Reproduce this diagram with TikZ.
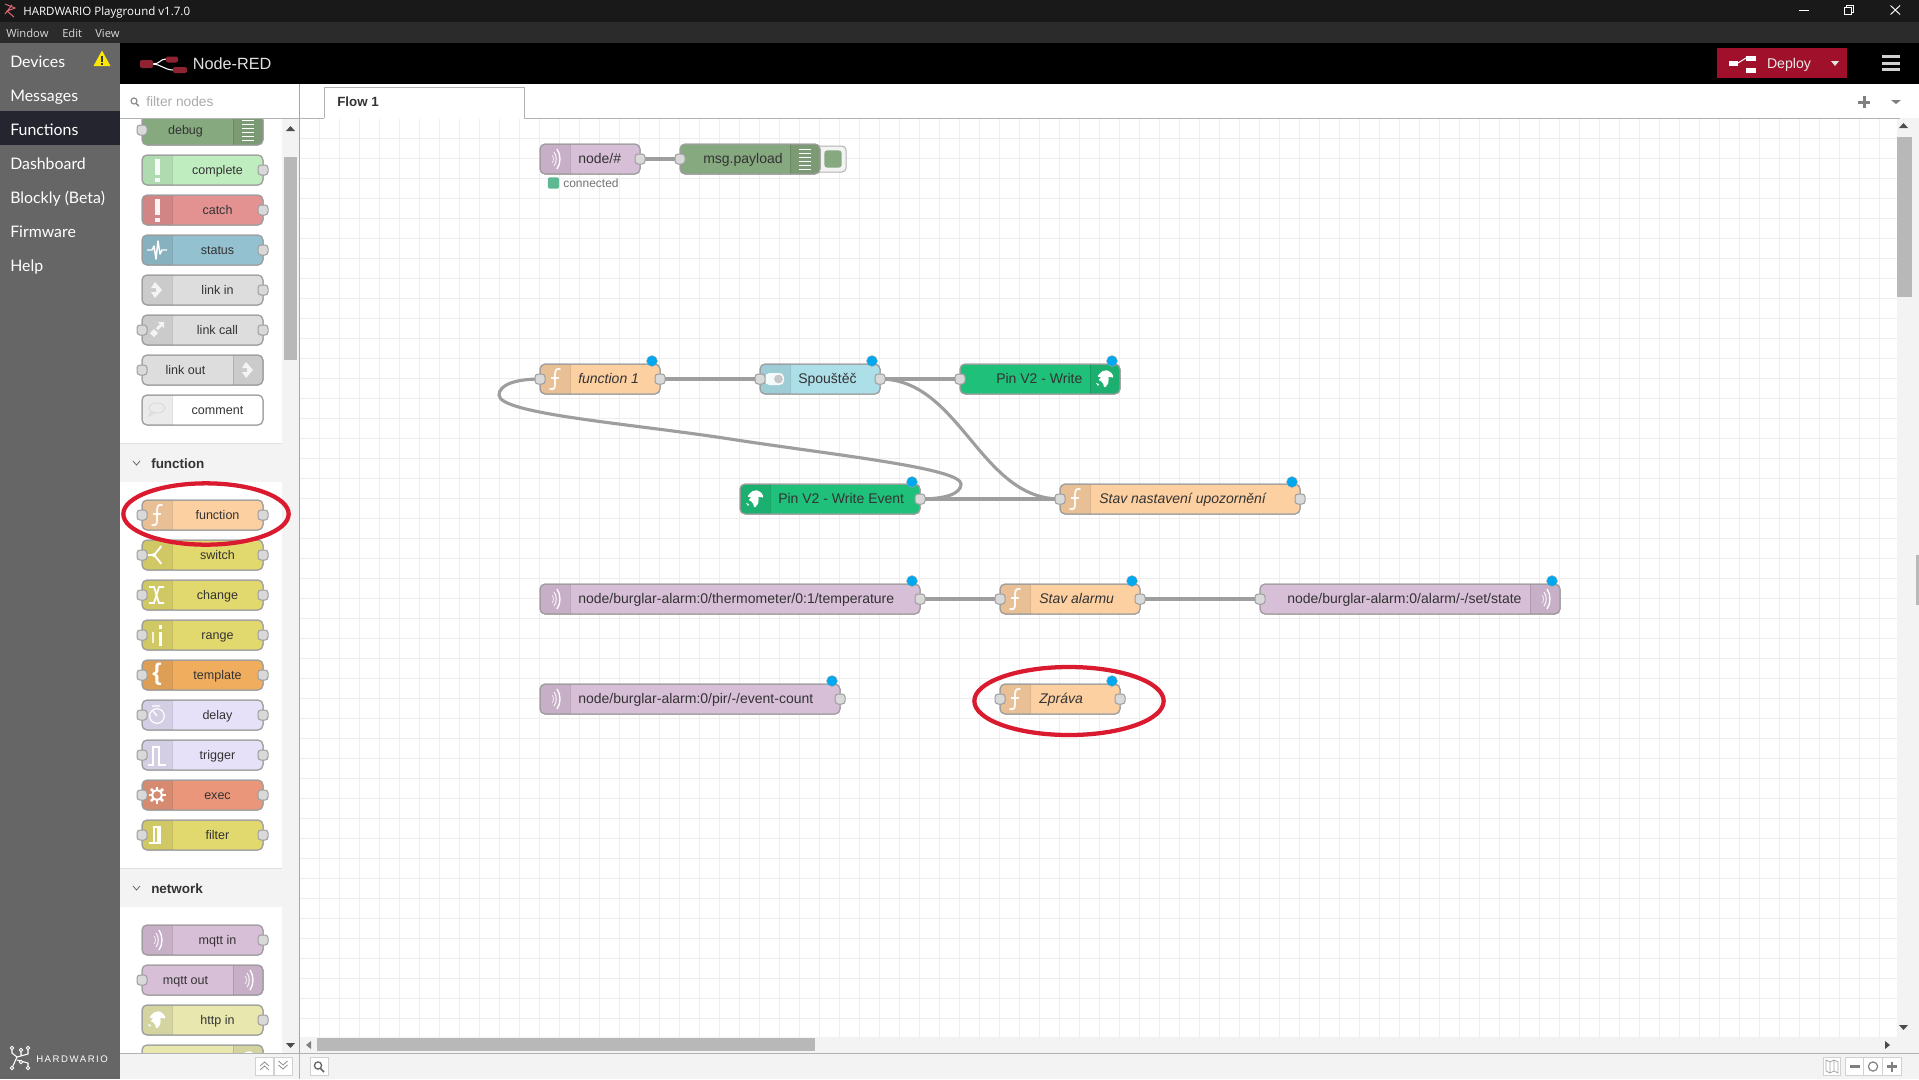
\documentclass[tikz,border=0pt]{standalone}
\usepackage{fontspec}
\usetikzlibrary{shapes.geometric}
\setmainfont{Liberation Sans}
\newfontfamily\uifont{Open Sans}
\newfontfamily\sidefont{Lato}
\newfontfamily\brandfont[LetterSpace=16]{Liberation Sans}
\definecolor{cFunc}{HTML}{FDD0A2}
\definecolor{cMqtt}{HTML}{D8BFD8}
\definecolor{cDebug}{HTML}{87A980}
\definecolor{cComplete}{HTML}{C0EDC0}
\definecolor{cCatch}{HTML}{E49191}
\definecolor{cStatus}{HTML}{94C1D0}
\definecolor{cLink}{HTML}{DDDDDD}
\definecolor{cSwitch}{HTML}{E2D96E}
\definecolor{cTemplate}{HTML}{F0AD5E}
\definecolor{cDelay}{HTML}{E6E0F8}
\definecolor{cExec}{HTML}{E9967A}
\definecolor{cHttp}{HTML}{E7E7AE}
\definecolor{cToggle}{HTML}{ADDFE9}
\definecolor{cPin}{HTML}{1FC07A}
\definecolor{cRed}{HTML}{DA1A2E}
\definecolor{cDeploy}{HTML}{A0102A}
\definecolor{cLogo}{HTML}{8F2332}
\definecolor{cText}{HTML}{333333}
\definecolor{cBar}{HTML}{F3F3F3}
\definecolor{cGrid}{HTML}{EEEEEE}
\definecolor{cBlue}{HTML}{00A8F0}
\definecolor{cSide}{HTML}{666666}
\definecolor{cSideOn}{HTML}{25252F}
\pgfdeclarelayer{gridlayer}
\pgfdeclarelayer{wirelayer}
\pgfsetlayers{gridlayer,wirelayer,main}
\tikzset{
  nodebox/.style={rectangle,rounded corners=3.75pt,draw=black!38,line width=0.75pt,minimum height=22.5pt,inner sep=0pt,outer sep=0pt},
  portbox/.style={rectangle,rounded corners=2.2pt,draw=black!38,fill=black!15,line width=0.75pt,minimum size=7.5pt,inner sep=0pt,outer sep=0pt},
  wire/.style={draw=black!38,line width=2.35pt},
  gridline/.style={draw=cGrid,line width=0.75pt},
  bluedot/.style={circle,fill=cBlue,draw=black!35,line width=0.3pt,minimum size=8.2pt,inner sep=0pt},
  redring/.style={ellipse,draw=cRed,line width=3.2pt,inner sep=0pt},
  flowlab/.style={text=cText,font=\fontsize{10.5}{12}\selectfont,inner sep=0pt,anchor=west,text height=9.4pt,text depth=2pt},
  flowit/.style={text=cText,font=\fontsize{10.5}{12}\selectfont\itshape,inner sep=0pt,anchor=west,text height=9.4pt,text depth=2pt},
  pallab/.style={text=cText,font=\fontsize{9.4}{11}\selectfont,inner sep=0pt,text height=8.8pt,text depth=2pt},
  sidelab/.style={text=white,font=\sidefont\fontsize{11.9}{14}\selectfont,inner sep=0pt,anchor=west,text height=12.2pt,text depth=2.4pt},
  menulab/.style={text=black!15,font=\uifont\fontsize{8.4}{10}\selectfont,inner sep=0pt,anchor=west,text height=8pt,text depth=1.6pt},
  sechead/.style={text=cText,font=\fontsize{10.1}{12}\selectfont\bfseries,inner sep=0pt,anchor=west,text height=9.8pt,text depth=2pt},
  toolbtn/.style={rectangle,draw=black!18,fill=white,line width=0.75pt,minimum height=13.5pt,inner sep=0pt},
  graytri/.style={fill=black!50},
}
\def\sideL{L}
\newcommand{\flowbox}[7]{%
  \pgfmathsetmacro\fnW{(#4-#3)*0.75}%
  \pgfmathsetmacro\fnM{(#3+#4)/2}%
  \node[nodebox,fill=#6,minimum width=\fnW pt] (#2) at (\fnM,#5) {};
  \def\fnS{#1}%
  \begin{scope}
    \clip[rounded corners=3.75pt] (#2.north west) rectangle (#2.south east);
    \ifx\fnS\sideL
      \fill[black,opacity=0.08] (#3,#5-15) rectangle (#3+30,#5+15);
      \draw[black,opacity=0.12,line width=0.75pt] (#3+30,#5-15) -- (#3+30,#5+15);
    \else
      \fill[black,opacity=0.08] (#4-30,#5-15) rectangle (#4,#5+15);
      \draw[black,opacity=0.12,line width=0.75pt] (#4-30,#5-15) -- (#4-30,#5+15);
    \fi
  \end{scope}
  \draw[black!38,line width=0.75pt,rounded corners=3.75pt] (#2.north west) rectangle (#2.south east);
  \ifx\fnS\sideL
    \begin{scope}[shift={(#3+15,#5)}]#7\end{scope}
  \else
    \begin{scope}[shift={(#4-15,#5)}]#7\end{scope}
  \fi
}
\newcommand{\portI}[1]{\node[portbox] (#1-i) at (#1.west) {};}
\newcommand{\portO}[1]{\node[portbox] (#1-o) at (#1.east) {};}
% icons
\newcommand{\icoF}{\draw[white,opacity=.9,line width=1.4pt,line cap=round] (5,-10) .. controls (1,-11) and (0,-8) .. (0,-4) -- (0,5) .. controls (0,9) and (-1,11) .. (-5,10); \draw[white,opacity=.9,line width=1pt] (-4,-1) -- (4,-1);}
\newcommand{\icoBang}{\fill[white,opacity=.9] (-2.5,-11) rectangle (2.5,5); \fill[white,opacity=.9] (-2.5,7.5) rectangle (2.5,11.5);}
\newcommand{\icoWave}{\draw[white,line width=1.1pt,line join=round] (-10,0) -- (-5,0) -- (-3,-4) -- (-1,9) -- (1,-9) -- (3,4) -- (5,0) -- (10,0);}
\newcommand{\icoLinkA}{\fill[white,opacity=.8] (-6,-2) -- (-2,-8) -- (5,0) -- (-2,8) -- (-6,2) -- (-1,2) -- (-1,-2) -- cycle;}
\newcommand{\icoLinkB}{\fill[white,opacity=.8] (1,-8) -- (7,-8) -- (7,-2) -- (5,-4) -- (1,0) -- (-1,-2) -- (3,-6) -- cycle; \fill[white,opacity=.8] (-7,3) -- (-3,-1) -- (1,3) -- (-3,7) -- cycle;}
\newcommand{\icoRadio}{\draw[white,opacity=.75,line width=0.6pt] (-3,-4) .. controls (-1,-2) and (-1,2) .. (-3,4); \draw[white,opacity=.85,line width=0.8pt] (-1,-7) .. controls (2,-3) and (2,3) .. (-1,7); \draw[white,line width=1pt] (2,-10) .. controls (6,-4) and (6,4) .. (2,10);}
\newcommand{\icoGlobe}{\fill[white,rounded corners=1.5pt] (-6,-5) -- (-1,-9) -- (5,-8) -- (9,-2) -- (6,-1) -- (3,-3) -- (4,2) -- (2,7) -- (-1,9) -- (-2,3) -- (-7,1) -- (-3,-2) -- (-8,-2) -- cycle; \fill[white] (-9,4) -- (-6,5) -- (-7,7) -- cycle;}
\newcommand{\icoToggle}{\fill[white,opacity=.9,rounded corners=3.4pt] (-10,-6) rectangle (9,6); \fill[black!22] (3.5,0) circle [radius=4.4];}
\newcommand{\icoList}{\foreach \ly in {-10,-6,-2,2,6,10}{\draw[white,line width=0.75pt] (-6,\ly) -- (6,\ly);}}
\newcommand{\icoSwitch}{\draw[white,line width=1.4pt] (-9,0) -- (-3,0) -- (3,-7) -- (4,-9) (-3,0) -- (3,7) -- (4,9); \fill[white] (-3,0) circle [radius=2];}
\newcommand{\icoChange}{\draw[white,line width=1.3pt] (-8,-8) -- (-3,-8) -- (2,8) -- (7,8) (-8,8) -- (-3,8) -- (2,-8) -- (7,-8);}
\newcommand{\icoRange}{\fill[white,opacity=.8] (-5,-3) rectangle (-3,8); \fill[white] (2,-3) rectangle (5,11); \fill[white] (2,-10) rectangle (5,-6);}
\newcommand{\icoBrace}{\node[text=white,inner sep=0pt,font=\fontsize{18}{20}\selectfont\bfseries] at (0,-1) {\{};}
\newcommand{\icoDelay}{\node[circle,draw=white,line width=0.9pt,minimum size=11pt,inner sep=0pt] at (0,1) {}; \draw[white,line width=0.9pt] (0,1) -- (-4,-4) (-5,-9) -- (3,-9);}
\newcommand{\icoTrigger}{\draw[white,line width=1.1pt] (-9,10) -- (-4,10) -- (-4,-8) -- (2,-8) -- (2,10) -- (9,10);}
\newcommand{\icoGear}{\foreach \ga in {0,45,...,315}{\draw[white,line width=1.9pt] (\ga:4.5) -- (\ga:8.5);}\draw[white,line width=1.5pt] (0,0) circle [radius=5];}
\newcommand{\icoFilter}{\draw[white,line width=0.9pt] (-8,8) -- (-3,8) -- (-3,-8) -- (3,-8) -- (3,8) -- (-3,8); \fill[white] (0,-8) rectangle (3,8);}
\newcommand{\icoBubble}{\draw[black!15,line width=0.7pt] (0,-2) ellipse [x radius=8,y radius=5]; \draw[black!15,line width=0.7pt] (-6,2) -- (-8,6) -- (-3,3);}
\newcommand{\pallabel}[3]{\node[pallab] (#1-t) at (#2) {#3};}
\begin{document}
\begin{tikzpicture}[x=0.75pt,y=-0.75pt]
\useasboundingbox (0,0) rectangle (1919,1079);
\begin{pgfonlayer}{gridlayer}
  \fill[white] (0,0) rectangle (1919,1079);
  \foreach \gx in {319,339,...,1899}{\draw[gridline] (\gx,118) -- (\gx,1053);}
  \foreach \gy in {138,158,...,1038}{\draw[gridline] (300,\gy) -- (1900,\gy);}
\end{pgfonlayer}

% ---------- flow
\flowbox{L}{mq1}{540}{640}{159}{cMqtt}{\icoRadio}
\node[flowlab] (mq1-t) at (578,159) {node/\#};
\portO{mq1}
\node[rectangle,rounded corners=3pt,draw=black!30,fill=cBar,line width=0.75pt,minimum width=24pt,minimum height=19.5pt,inner sep=0pt] (dbgbtn) at (830,159) {};
\node[rectangle,rounded corners=2.2pt,fill=cDebug,minimum width=13pt,minimum height=13pt,inner sep=0pt] (dbgdot) at (833,159) {};
\flowbox{R}{dbg}{680}{820}{159}{cDebug}{\icoList}
\node[flowlab] (dbg-t) at (703,159) {msg.payload};
\portI{dbg}
\node[rectangle,rounded corners=1.5pt,fill=cPin!80!black!70,minimum size=8.5pt,inner sep=0pt] (connsq) at (553.5,183) {};
\node[inner sep=0pt,anchor=west,text=black!55,font=\fontsize{9}{10}\selectfont,text height=8.3pt,text depth=1.8pt] (conntxt) at (563,183) {connected};

\flowbox{L}{fn1}{540}{660}{379}{cFunc}{\icoF}
\node[flowit] (fn1-t) at (578,379) {function 1};
\portI{fn1}\portO{fn1}
\node[bluedot] (fn1-d) at (652,361) {};

\flowbox{L}{spo}{760}{880}{379}{cToggle}{\icoToggle}
\node[flowlab] (spo-t) at (798,379) {Spouštěč};
\portI{spo}\portO{spo}
\node[bluedot] (spo-d) at (872,361) {};

\flowbox{R}{pinw}{960}{1120}{379}{cPin}{\icoGlobe}
\node[flowlab] (pinw-t) at (996,379) {Pin V2 - Write};
\portI{pinw}
\node[bluedot] (pinw-d) at (1112,361) {};

\flowbox{L}{pine}{740}{920}{499}{cPin}{\icoGlobe}
\node[flowlab] (pine-t) at (778,499) {Pin V2 - Write Event};
\portO{pine}
\node[bluedot] (pine-d) at (912,482) {};

\flowbox{L}{stn}{1060}{1300}{499}{cFunc}{\icoF}
\node[flowit] (stn-t) at (1099,499) {Stav nastavení upozornění};
\portI{stn}\portO{stn}
\node[bluedot] (stn-d) at (1292,482) {};

\flowbox{L}{mqt}{540}{920}{599}{cMqtt}{\icoRadio}
\node[flowlab] (mqt-t) at (578,599) {node/burglar-alarm:0/thermometer/0:1/temperature};
\portO{mqt}
\node[bluedot] (mqt-d) at (912,581) {};

\flowbox{L}{sta}{1000}{1140}{599}{cFunc}{\icoF}
\node[flowit] (sta-t) at (1039,599) {Stav alarmu};
\portI{sta}\portO{sta}
\node[bluedot] (sta-d) at (1132,581) {};

\flowbox{R}{mqs}{1260}{1560}{599}{cMqtt}{\icoRadio}
\node[flowlab] (mqs-t) at (1287,599) {node/burglar-alarm:0/alarm/-/set/state};
\portI{mqs}
\node[bluedot] (mqs-d) at (1552,581) {};

\flowbox{L}{mqp}{540}{840}{699}{cMqtt}{\icoRadio}
\node[flowlab] (mqp-t) at (578,699) {node/burglar-alarm:0/pir/-/event-count};
\portO{mqp}
\node[bluedot] (mqp-d) at (832,681) {};

\flowbox{L}{zpr}{1000}{1120}{699}{cFunc}{\icoF}
\node[flowit] (zpr-t) at (1039,699) {Zpráva};
\portI{zpr}\portO{zpr}
\node[bluedot] (zpr-d) at (1112,681) {};

\node[redring,minimum width=142pt,minimum height=51pt] (ringb) at (1069,701) {};

% ---------- wires
\coordinate (lpa) at (961,484);
\coordinate (lpb) at (730,439);
\coordinate (lpc) at (499,395);
\begin{pgfonlayer}{wirelayer}
  \draw[wire] (mq1-o.center) -- (dbg-i.center);
  \draw[wire] (fn1-o.center) -- (spo-i.center);
  \draw[wire] (spo-o.center) -- (pinw-i.center);
  \draw[wire] (spo-o.center) .. controls +(80,0) and +(-80,0) .. (stn-i.center);
  \draw[wire] (pine-o.center) -- (stn-i.center);
  \draw[wire] (mqt-o.center) -- (sta-i.center);
  \draw[wire] (sta-o.center) -- (mqs-i.center);
  \draw[wire] (pine-o.center) .. controls (945,499) and (961,494) .. (lpa)
     .. controls (961,468) and (830,454.5) .. (lpb)
     .. controls (630,423.5) and (499,414) .. (lpc)
     .. controls (499,385) and (515,379) .. (fn1-i.center);
\end{pgfonlayer}

% ---------- right scrollbars and toolbars of workspace
\fill[cBar] (1897,118) rectangle (1919,1053);
\fill[black!28] (1897,137) rectangle (1912,297);
\fill[black!28] (1916,555) rectangle (1919,605);
\fill[cBar] (300,1037) rectangle (1900,1053);
\fill[black!28] (317,1038) rectangle (815,1051);
\fill[graytri] (311,1041) -- (311,1049) -- (306,1045) -- cycle;
\fill[black!70] (1885,1041) -- (1885,1049) -- (1890,1045) -- cycle;
\fill[black!70] (1899,128) -- (1908,128) -- (1903.5,123) -- cycle;
\fill[black!70] (1899,1025) -- (1908,1025) -- (1903.5,1030) -- cycle;

% ---------- palette
\fill[white] (120,118) rectangle (299,1053);
\fill[cBar] (282,118) rectangle (299,1053);
\fill[black!28] (283.5,157) rectangle (297,360);
\fill[cBar] (120,443) rectangle (299,482);
\fill[cBar] (120,868) rectangle (299,907);
\draw[black!12,line width=0.75pt] (120,443) -- (282,443) (120,868) -- (282,868);
\draw[black!35,line width=0.75pt] (299.5,84) -- (299.5,1079);
\fill[black!70] (286,131) -- (295,131) -- (290.5,126) -- cycle;
\fill[black!70] (286,1043) -- (295,1043) -- (290.5,1048) -- cycle;

\flowbox{R}{pdebug}{142}{263}{130}{cDebug}{\icoList}
\pallabel{pdebug}{185.5,130}{debug}\portI{pdebug}
\flowbox{L}{pcomp}{142}{263}{170}{cComplete}{\icoBang}
\pallabel{pcomp}{217.5,170}{complete}\portO{pcomp}
\flowbox{L}{pcatch}{142}{263}{210}{cCatch}{\icoBang}
\pallabel{pcatch}{217.5,210}{catch}\portO{pcatch}
\flowbox{L}{pstat}{142}{263}{250}{cStatus}{\icoWave}
\pallabel{pstat}{217.5,250}{status}\portO{pstat}
\flowbox{L}{plin}{142}{263}{290}{cLink}{\icoLinkA}
\pallabel{plin}{217.5,290}{link in}\portO{plin}
\flowbox{L}{plcall}{142}{263}{330}{cLink}{\icoLinkB}
\pallabel{plcall}{217.5,330}{link call}\portI{plcall}\portO{plcall}
\flowbox{R}{plout}{142}{263}{370}{cLink}{\icoLinkA}
\pallabel{plout}{185.5,370}{link out}\portI{plout}
\flowbox{L}{pcomm}{142}{263}{410}{white}{\icoBubble}
\pallabel{pcomm}{217.5,410}{comment}

\node[sechead] (secfn) at (151,463) {function};
\draw[black!60,line width=0.6pt] (133,461) -- (136.5,465) -- (140,461);

\flowbox{L}{pfunc}{142}{263}{515}{cFunc}{\icoF}
\pallabel{pfunc}{217.5,515}{function}\portI{pfunc}\portO{pfunc}
\flowbox{L}{pswit}{142}{263}{555}{cSwitch}{\icoSwitch}
\pallabel{pswit}{217.5,555}{switch}\portI{pswit}\portO{pswit}
\flowbox{L}{pchan}{142}{263}{595}{cSwitch}{\icoChange}
\pallabel{pchan}{217.5,595}{change}\portI{pchan}\portO{pchan}
\flowbox{L}{prang}{142}{263}{635}{cSwitch}{\icoRange}
\pallabel{prang}{217.5,635}{range}\portI{prang}\portO{prang}
\flowbox{L}{ptemp}{142}{263}{675}{cTemplate}{\icoBrace}
\pallabel{ptemp}{217.5,675}{template}\portI{ptemp}\portO{ptemp}
\flowbox{L}{pdela}{142}{263}{715}{cDelay}{\icoDelay}
\pallabel{pdela}{217.5,715}{delay}\portI{pdela}\portO{pdela}
\flowbox{L}{ptrig}{142}{263}{755}{cDelay}{\icoTrigger}
\pallabel{ptrig}{217.5,755}{trigger}\portI{ptrig}\portO{ptrig}
\flowbox{L}{pexec}{142}{263}{795}{cExec}{\icoGear}
\pallabel{pexec}{217.5,795}{exec}\portI{pexec}\portO{pexec}
\flowbox{L}{pfilt}{142}{263}{835}{cSwitch}{\icoFilter}
\pallabel{pfilt}{217.5,835}{filter}\portI{pfilt}\portO{pfilt}

\node[sechead] (secnet) at (151,888) {network};
\draw[black!60,line width=0.6pt] (133,886) -- (136.5,890) -- (140,886);

\flowbox{L}{pmin}{142}{263}{940}{cMqtt}{\icoRadio}
\pallabel{pmin}{217.5,940}{mqtt in}\portO{pmin}
\flowbox{R}{pmout}{142}{263}{980}{cMqtt}{\icoRadio}
\pallabel{pmout}{185.5,980}{mqtt out}\portI{pmout}
\flowbox{L}{phin}{142}{263}{1020}{cHttp}{\icoGlobe}
\pallabel{phin}{217.5,1020}{http in}\portO{phin}
\flowbox{R}{phout}{142}{263}{1060}{cHttp}{\icoGlobe}

\node[redring,minimum width=124pt,minimum height=46pt] (ringa) at (206,514) {};

% ---------- covers: filter bar and tab bar
\fill[white] (120,84) rectangle (1919,118);
\draw[black!30,line width=0.75pt] (120,118) -- (1900,118);
\draw[black!45,line width=0.9pt] (134,101) circle [radius=3];
\draw[black!45,line width=1.1pt] (136,103.5) -- (139,106);
\node[inner sep=0pt,anchor=west,text=black!33,font=\fontsize{10.3}{12}\selectfont,text height=9.3pt,text depth=2pt] (filtertxt) at (146,102) {filter nodes};
\draw[black!35,line width=0.75pt] (299.5,84) -- (299.5,118);
\fill[white] (324,87) rectangle (524,119);
\draw[black!30,line width=0.75pt] (324,118) -- (324,87) -- (524,87) -- (524,118);
\node[inner sep=0pt,anchor=west,text=cText,font=\fontsize{10}{12}\selectfont\bfseries,text height=9.3pt,text depth=2pt] (tabtxt) at (337,102) {Flow 1};
\fill[black!50] (1858,100.5) rectangle (1870,103.5);
\fill[black!50] (1862.5,96) rectangle (1865.5,108);
\fill[black!50] (1891,100) -- (1901,100) -- (1896,104) -- cycle;

% ---------- bottom bar
\fill[cBar] (120,1053) rectangle (1919,1079);
\draw[black!30,line width=0.75pt] (120,1053.5) -- (1919,1053.5);
\draw[black!30,line width=0.75pt] (299.5,1053) -- (299.5,1079);
\node[toolbtn,minimum width=13.5pt] (bup) at (264.5,1066.5) {};
\node[toolbtn,minimum width=13.5pt] (bdown) at (283,1066.5) {};
\draw[black!45,line width=0.6pt] (260,1066) -- (264.5,1062) -- (269,1066) (260,1070) -- (264.5,1066) -- (269,1070);
\draw[black!45,line width=0.6pt] (278.5,1061) -- (283,1065) -- (287.5,1061) (278.5,1065) -- (283,1069) -- (287.5,1065);
\node[toolbtn,minimum width=13.5pt] (bsearch) at (319,1066.5) {};
\draw[black!60,line width=1pt] (318,1065.5) circle [radius=3.6];
\draw[black!60,line width=1.3pt] (320.5,1068.5) -- (324,1072);
\node[toolbtn,minimum width=13pt] (bmap) at (1832,1066.5) {};
\draw[black!35,line width=0.6pt] (1826,1060) -- (1830,1062) -- (1834,1060) -- (1838,1062) -- (1838,1073) -- (1834,1071) -- (1830,1073) -- (1826,1071) -- cycle (1830,1062) -- (1830,1073) (1834,1060) -- (1834,1071);
\node[toolbtn,minimum width=14pt] (bminus) at (1855,1066.5) {};
\node[toolbtn,minimum width=14pt] (bzero) at (1873,1066.5) {};
\node[toolbtn,minimum width=14pt] (bplus) at (1892,1066.5) {};
\fill[black!50] (1850,1065.2) rectangle (1860,1067.8);
\draw[black!50,line width=0.9pt] (1873,1066.5) circle [radius=4.6];
\fill[black!50] (1887,1065.2) rectangle (1897,1067.8);
\fill[black!50] (1890.7,1061.5) rectangle (1893.3,1071.5);

% ---------- black header
\fill[black] (120,43) rectangle (1919,84);
\draw[white,line width=0.8pt] (153,64) .. controls (160,64) and (160,59) .. (166,59);
\draw[white,line width=0.8pt] (153,64) .. controls (160,64) and (165,70) .. (173,70);
\fill[cLogo,rounded corners=1.5pt] (140,60) rectangle (153,68);
\fill[cLogo,rounded corners=1.5pt] (166,56.5) rectangle (178,62.5);
\fill[cLogo,rounded corners=1.5pt] (173,67) rectangle (187,73);
\node[inner sep=0pt,anchor=west,text=black!12,font=\fontsize{12.2}{14}\selectfont,text height=10.8pt,text depth=2.4pt] (nrtxt) at (192.5,64) {Node-RED};
\fill[cDeploy] (1717,48) rectangle (1847,78);
\fill[white] (1729,60.5) rectangle (1738,66);
\fill[white] (1746,55.5) rectangle (1756,61);
\fill[white] (1746,68) rectangle (1756,73);
\draw[white,line width=0.75pt] (1738,63) -- (1746,58);
\node[inner sep=0pt,text=black!8,font=\fontsize{10.6}{12}\selectfont,text height=9.5pt,text depth=2pt] (deploytxt) at (1789,63) {Deploy};
\fill[black!10] (1831,61) -- (1839,61) -- (1835,66) -- cycle;
\fill[black!18] (1882,55) rectangle (1900,58);
\fill[black!18] (1882,61.5) rectangle (1900,64.5);
\fill[black!18] (1882,67.5) rectangle (1900,70.5);

% ---------- window chrome
\fill[black!90] (0,0) rectangle (1919,22);
\fill[black!83] (0,22) rectangle (1919,43);
\draw[cRed!65!white,line width=0.7pt] (5,4) -- (15,8) -- (7,11) -- (14,17) (5,14) -- (12,5);
\node[inner sep=0pt,anchor=west,text=white,font=\uifont\fontsize{8.65}{10}\selectfont,text height=8.3pt,text depth=1.7pt] (titletxt) at (23,11.5) {HARDWARIO Playground v1.7.0};
\node[menulab] (mwin) at (6,33) {Window};
\node[menulab] (medit) at (62,33) {Edit};
\node[menulab] (mview) at (95,33) {View};
\draw[white,line width=0.7pt] (1799,10.5) -- (1809,10.5);
\draw[white,line width=0.6pt] (1844.5,7) rectangle (1851.5,14.5);
\draw[white,line width=0.6pt] (1846.5,7) -- (1846.5,5) -- (1853.5,5) -- (1853.5,12.5) -- (1851.5,12.5);
\draw[white,line width=0.7pt] (1890.5,5.5) -- (1900,14.5) (1900,5.5) -- (1890.5,14.5);

% ---------- side bar
\fill[cSide] (0,43) rectangle (120,1079);
\fill[cSideOn] (0,111) rectangle (120,145);
\node[sidelab] (sdev) at (10,60.5) {Devices};
\fill[yellow!90!orange] (102,50.5) -- (110.5,66) -- (93.5,66) -- cycle;
\fill[black!80] (101,55.5) rectangle (103,61.5);
\fill[black!80] (101,62.8) rectangle (103,64.8);
\node[sidelab] (smes) at (10,94.5) {Messages};
\node[sidelab] (sfun) at (10,128.5) {Functions};
\node[sidelab] (sdas) at (10,162.5) {Dashboard};
\node[sidelab] (sblo) at (10,196.5) {Blockly (Beta)};
\node[sidelab] (sfir) at (10,230.5) {Firmware};
\node[sidelab] (shel) at (10,264.5) {Help};
\draw[white,line width=0.8pt] (12,1048) -- (12,1053) -- (17,1057) -- (12,1068) (28,1048) -- (28,1054) -- (17,1057) (17,1060) -- (28,1063) -- (28,1068) (21,1048) -- (21,1055);
\foreach \lx/\ly in {12/1048,28/1048,21/1050,12/1068,28/1068,21/1062}{\fill[cSide,draw=white,line width=0.7pt] (\lx,\ly) circle [radius=1.8];}
\node[inner sep=0pt,anchor=west,text=white,font=\brandfont\fontsize{7.2}{9}\selectfont,text height=7.1pt,text depth=0pt] (brandtxt) at (36,1058) {HARDWARIO};
\end{tikzpicture}
\end{document}
